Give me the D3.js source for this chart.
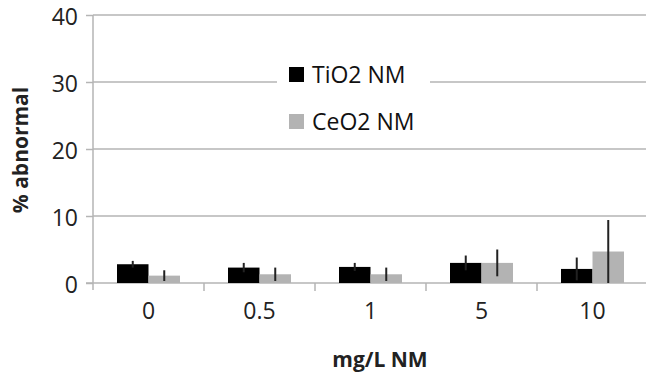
<!DOCTYPE html>
<html>
<head>
<meta charset="utf-8">
<script src="https://cdn.jsdelivr.net/npm/d3@7"></script>
<style>
  body { margin: 0; background: #fff; }
  svg { display: block; font-family: "Open Sans", sans-serif; }
</style>
</head>
<body>
<div id="chart"></div>
<script>
// tamaño del svg
const width = 646,
  height = 380;
const margin = { top: 15, right: 0, bottom: 97, left: 93 };

// datos
const categories = ["0", "0.5", "1", "5", "10"];
const seriesNames = ["TiO2 NM", "CeO2 NM"];
const tio2 = [2.8, 2.3, 2.4, 3.0, 2.1];
const tio2Err = [0.5, 0.7, 0.6, 1.1, 1.7];
const ceo2 = [1.1, 1.3, 1.3, 3.0, 4.7];
const ceo2Err = [0.8, 1.0, 1.0, 2.0, 4.7];
const yTicks = [0, 10, 20, 30, 40];

const colors = d3.scaleOrdinal().domain(seriesNames).range(["#000000", "#b3b3b3"]);

const data = categories.map((c, i) => ({
  cat: c,
  values: [
    { key: seriesNames[0], value: tio2[i], err: tio2Err[i] },
    { key: seriesNames[1], value: ceo2[i], err: ceo2Err[i] }
  ]
}));

const svg = d3.select("#chart").append("svg")
  .attr("width", width)
  .attr("height", height);

const xScale = d3.scaleBand()
  .domain(categories)
  .range([margin.left, 648])
  .padding(0);

const yScale = d3.scaleLinear()
  .domain([0, 40])
  .range([height - margin.bottom, margin.top]);

const barW = 31.5;
const xSub = d3.scaleBand().domain(seriesNames).range([0, barW * 2]);

// lineas de la cuadricula
svg.append("g")
  .selectAll("line")
  .data(yTicks.filter(d => d > 0))
  .enter()
  .append("line")
  .attr("x1", margin.left)
  .attr("x2", 648)
  .attr("y1", d => yScale(d))
  .attr("y2", d => yScale(d))
  .attr("stroke", "#b5b5b5")
  .attr("stroke-width", 1.5);

// eje Y
const yAxis = d3.axisLeft(yScale).tickValues(yTicks).tickSize(7).tickPadding(8);
const gy = svg.append("g")
  .attr("transform", `translate(${margin.left},0)`)
  .call(yAxis);
gy.select(".domain").remove();
gy.selectAll(".tick line").attr("stroke", "#b5b5b5").attr("stroke-width", 1.5);
gy.selectAll(".tick text")
  .attr("font-size", 23)
  .attr("dy", "0.42em")
  .attr("font-family", "Open Sans, sans-serif")
  .attr("fill", "#222");

svg.append("line")
  .attr("x1", margin.left).attr("x2", margin.left)
  .attr("y1", yScale(40)).attr("y2", yScale(0) + 7)
  .attr("stroke", "#b5b5b5").attr("stroke-width", 1.5);

// eje X
const xAxis = d3.axisBottom(xScale).tickSize(0).tickPadding(20);
const gx = svg.append("g")
  .attr("transform", `translate(0,${yScale(0)})`)
  .call(xAxis);
gx.select(".domain").remove();
gx.selectAll(".tick text")
  .attr("font-size", 23)
  .attr("font-family", "Open Sans, sans-serif")
  .attr("fill", "#222");

svg.append("line")
  .attr("x1", margin.left - 7).attr("x2", 648)
  .attr("y1", yScale(0)).attr("y2", yScale(0))
  .attr("stroke", "#b5b5b5").attr("stroke-width", 1.5);

// separadores de categoria
svg.append("g")
  .selectAll("line")
  .data(categories.slice(1))
  .enter()
  .append("line")
  .attr("x1", d => xScale(d))
  .attr("x2", d => xScale(d))
  .attr("y1", yScale(0))
  .attr("y2", yScale(0) + 8)
  .attr("stroke", "#b5b5b5")
  .attr("stroke-width", 1.5);

// barras
const groups = svg.append("g")
  .selectAll("g")
  .data(data)
  .enter()
  .append("g")
  .attr("transform", d => `translate(${xScale(d.cat) + xScale.bandwidth() / 2 - barW},0)`);

groups.selectAll("rect")
  .data(d => d.values)
  .enter()
  .append("rect")
  .attr("x", d => xSub(d.key))
  .attr("y", d => yScale(d.value))
  .attr("width", xSub.bandwidth())
  .attr("height", d => yScale(0) - yScale(d.value))
  .attr("fill", d => colors(d.key));

// barras de error
groups.selectAll("line.err")
  .data(d => d.values)
  .enter()
  .append("line")
  .attr("class", "err")
  .attr("x1", d => xSub(d.key) + xSub.bandwidth() / 2)
  .attr("x2", d => xSub(d.key) + xSub.bandwidth() / 2)
  .attr("y1", d => yScale(d.value + d.err))
  .attr("y2", d => yScale(Math.max(0, d.value - d.err)))
  .attr("stroke", "#222")
  .attr("stroke-width", 2);

// leyenda
svg.append("rect")
  .attr("x", 277).attr("y", 55)
  .attr("width", 153).attr("height", 85)
  .attr("fill", "#fff");

const legend = svg.append("g")
  .selectAll("g")
  .data(seriesNames)
  .enter()
  .append("g")
  .attr("transform", (d, i) => `translate(289,${67 + i * 47})`);

legend.append("rect")
  .attr("width", 15)
  .attr("height", 15)
  .attr("fill", d => colors(d));

legend.append("text")
  .attr("x", 23)
  .attr("y", 16)
  .attr("font-size", 23)
  .attr("fill", "#111")
  .text(d => d);

// titulos de los ejes
svg.append("text")
  .attr("transform", `translate(28,150) rotate(-90)`)
  .attr("text-anchor", "middle")
  .attr("font-size", 21)
  .attr("font-weight", "bold")
  .attr("fill", "#222")
  .text("% abnormal");

svg.append("text")
  .attr("x", 380)
  .attr("y", 367)
  .attr("text-anchor", "middle")
  .attr("font-size", 21)
  .attr("font-weight", "bold")
  .attr("fill", "#222")
  .text("mg/L NM");
</script>
</body>
</html>
